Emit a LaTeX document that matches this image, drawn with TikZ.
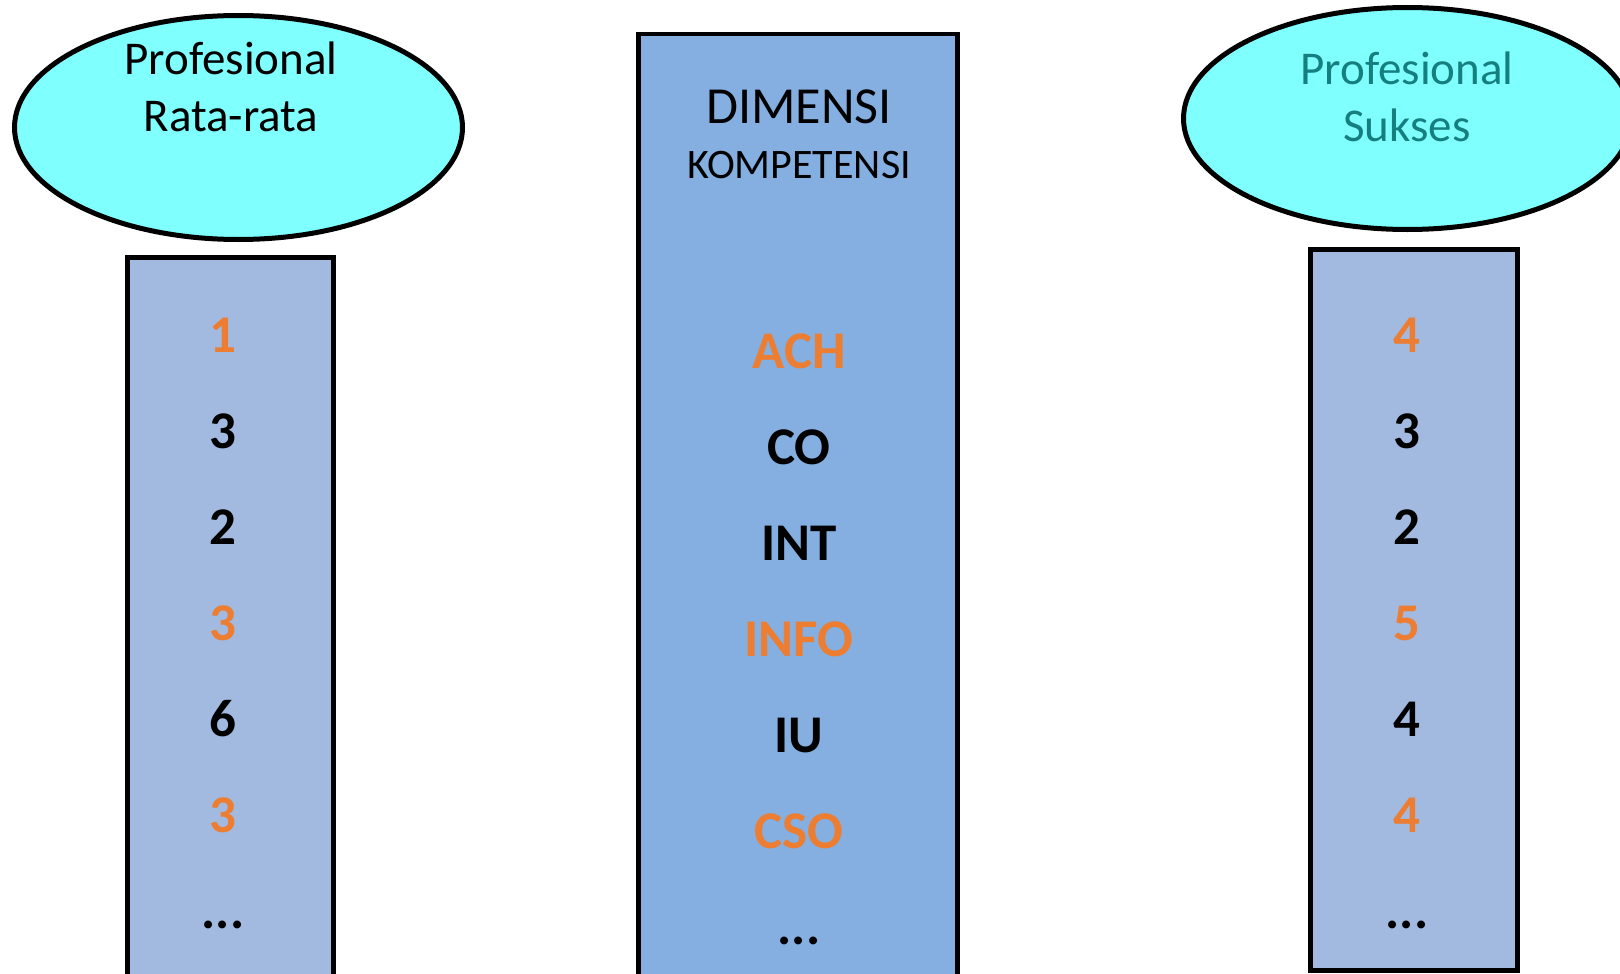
\documentclass[tikz,border=0pt]{standalone}
\usepackage{fontspec}
\setmainfont{Carlito}
\usepackage{xcolor}
\usetikzlibrary{shapes.geometric}
\definecolor{cyanfill}{HTML}{80FFFF}
\definecolor{sidebox}{HTML}{A2B9E0}
\definecolor{midbox}{HTML}{84AFE0}
\definecolor{hilite}{HTML}{ED7D31}
\definecolor{tealtext}{HTML}{157F7F}
\newcommand{\rowdots}{...}
\tikzset{
    group/.style={ellipse, draw, line width=5pt, fill=cyanfill, minimum width=448pt, minimum height=224pt, inner sep=0pt},
    column/.style={draw, line width=4.5pt, anchor=north west, inner sep=0pt},
    grouptitle/.style={align=center, font=\fontsize{47}{57}\selectfont},
    item/.style={anchor=base, font=\fontsize{53}{60}\selectfont\bfseries},
    hot/.style={item, text=hilite}
}

\begin{document}
\begin{tikzpicture}[x=1pt, y=-1pt]
    \useasboundingbox (0,0) rectangle (1620,974);
    \clip (0,0) rectangle (1620,974);
    % Groups
    \node[group] (average) at (238.5,127.5) {};
    \node[grouptitle] (averagetitle) at (231,87) {Profesional\\Rata-rata};
    \node[group, minimum height=222pt] (success) at (1407.5,118.5) {};
    \node[grouptitle, text=tealtext] (successtitle) at (1407,97) {Profesional\\Sukses};
    % Columns
    \node[column, fill=sidebox, minimum width=206pt, minimum height=760pt] (leftcol) at (125,255) {};
    \node[column, fill=midbox, minimum width=319pt, minimum height=980pt] (midcol) at (636,32) {};
    \node[column, fill=sidebox, minimum width=207pt, minimum height=721pt] (rightcol) at (1308,247) {};
    % Header
    \node[font=\fontsize{52}{60}\selectfont] (dimensi) at (799,107) {DIMENSI};
    \node[font=\fontsize{42}{50}\selectfont] (kompetensi) at (799,165) {KOMPETENSI};
    % Rows
    \foreach \a/\m/\b/\s [count=\i] in {1/ACH/4/hot, 3/CO/3/item, 2/INT/2/item, 3/INFO/5/hot,
            6/IU/4/item, 3/CSO/4/hot, \rowdots/\rowdots/\rowdots/item} {
        \node[\s] (left-\i) at (223,{352+96*(\i-1)}) {\a};
        \node[\s] (dim-\i) at (799,{368+96*(\i-1)}) {\m};
        \node[\s] (right-\i) at (1407,{352+96*(\i-1)}) {\b};
    }
\end{tikzpicture}
\end{document}
